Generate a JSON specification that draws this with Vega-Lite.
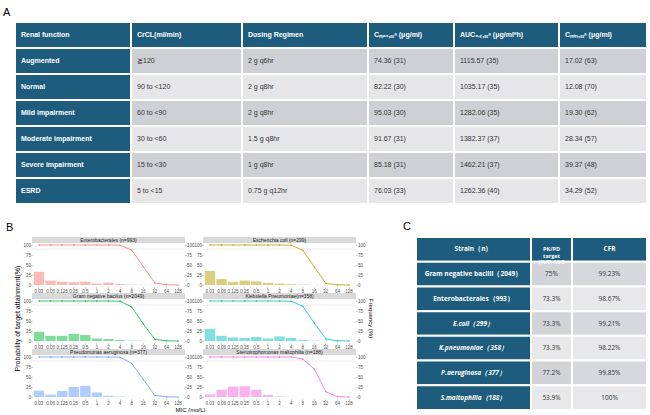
{
 "$schema": "https://vega.github.io/schema/vega-lite/v6.json",
 "background": "white",
 "padding": {"left": 3, "top": 7, "right": 0, "bottom": 0},
 "bounds": "flush",
 "spacing": 215,
 "config": {
  "view": {"stroke": null},
  "axis": {"domain": false, "grid": false, "labelFont": "Liberation Sans", "labelFontSize": 4.5, "labelColor": "#4d4d4d", "tickColor": "#4d4d4d", "tickSize": 1, "tickWidth": 0.5, "labelPadding": 0.5, "titleFont": "Liberation Sans", "titleFontSize": 6, "titleFontWeight": "normal", "titleColor": "#000000", "titlePadding": 2},
  "title": {"font": "Liberation Sans", "fontWeight": "normal", "color": "#000000"},
  "text": {"font": "Liberation Sans"}
 },
 "datasets": {
  "a": [
   {"r": 0, "c": "renal", "t": "Renal function"}, {"r": 0, "c": "crcl", "t": "CrCL(ml/min)"}, {"r": 0, "c": "dose", "t": "Dosing Regimen"}, {"r": 0, "c": "cmax", "t": "Cₘₐₓ,ₛₛᵃ (μg/ml)"}, {"r": 0, "c": "auc", "t": "AUC₀₋ₜ,ₛₛᵃ (μg/ml*h)"}, {"r": 0, "c": "cmin", "t": "Cₘᵢₙ,ₛₛᵃ (μg/ml)"},
   {"r": 1, "c": "renal", "t": "Augmented"}, {"r": 1, "c": "crcl", "t": "≧120"}, {"r": 1, "c": "dose", "t": "2 g q6hr"}, {"r": 1, "c": "cmax", "t": "74.36 (31)"}, {"r": 1, "c": "auc", "t": "1115.57 (35)"}, {"r": 1, "c": "cmin", "t": "17.02 (63)"},
   {"r": 2, "c": "renal", "t": "Normal"}, {"r": 2, "c": "crcl", "t": "90 to <120"}, {"r": 2, "c": "dose", "t": "2 g q8hr"}, {"r": 2, "c": "cmax", "t": "82.22 (30)"}, {"r": 2, "c": "auc", "t": "1035.17 (35)"}, {"r": 2, "c": "cmin", "t": "12.08 (70)"},
   {"r": 3, "c": "renal", "t": "Mild impairment"}, {"r": 3, "c": "crcl", "t": "60 to <90"}, {"r": 3, "c": "dose", "t": "2 g q8hr"}, {"r": 3, "c": "cmax", "t": "95.03 (30)"}, {"r": 3, "c": "auc", "t": "1282.06 (35)"}, {"r": 3, "c": "cmin", "t": "19.30 (62)"},
   {"r": 4, "c": "renal", "t": "Moderate impairment"}, {"r": 4, "c": "crcl", "t": "30 to <60"}, {"r": 4, "c": "dose", "t": "1.5 g q8hr"}, {"r": 4, "c": "cmax", "t": "91.67 (31)"}, {"r": 4, "c": "auc", "t": "1382.37 (37)"}, {"r": 4, "c": "cmin", "t": "28.34 (57)"},
   {"r": 5, "c": "renal", "t": "Severe impairment"}, {"r": 5, "c": "crcl", "t": "15 to <30"}, {"r": 5, "c": "dose", "t": "1 g q8hr"}, {"r": 5, "c": "cmax", "t": "85.18 (31)"}, {"r": 5, "c": "auc", "t": "1462.21 (37)"}, {"r": 5, "c": "cmin", "t": "39.37 (48)"},
   {"r": 6, "c": "renal", "t": "ESRD"}, {"r": 6, "c": "crcl", "t": "5 to <15"}, {"r": 6, "c": "dose", "t": "0.75 g q12hr"}, {"r": 6, "c": "cmax", "t": "76.03 (33)"}, {"r": 6, "c": "auc", "t": "1262.36 (40)"}, {"r": 6, "c": "cmin", "t": "34.29 (52)"}
  ],
  "c": [
   {"r": 0, "c": "strain", "t": "Strain（n）"}, {"r": 0, "c": "pk", "t": "PK/PD\ntarget\n(%fT>MIC"}, {"r": 0, "c": "cfr", "t": "CFR"},
   {"r": 1, "c": "strain", "t": "Gram negative bacilli（2049）"}, {"r": 1, "c": "pk", "t": "75%"}, {"r": 1, "c": "cfr", "t": "99.23%"},
   {"r": 2, "c": "strain", "t": "Enterobacterales（993）"}, {"r": 2, "c": "pk", "t": "73.3%"}, {"r": 2, "c": "cfr", "t": "98.67%"},
   {"r": 3, "c": "strain", "t": "E.coli（299）"}, {"r": 3, "c": "pk", "t": "73.3%"}, {"r": 3, "c": "cfr", "t": "99.21%"},
   {"r": 4, "c": "strain", "t": "K.pneumoniae（358）"}, {"r": 4, "c": "pk", "t": "73.3%"}, {"r": 4, "c": "cfr", "t": "98.22%"},
   {"r": 5, "c": "strain", "t": "P.aeruginosa（377）"}, {"r": 5, "c": "pk", "t": "77.2%"}, {"r": 5, "c": "cfr", "t": "99.85%"},
   {"r": 6, "c": "strain", "t": "S.maltophilia（188）"}, {"r": 6, "c": "pk", "t": "53.9%"}, {"r": 6, "c": "cfr", "t": "100%"}
  ],
  "b": [
   {"s": "Enterobacterales (n=993)", "mic": "0.03", "freq": 33, "pta": 100},
   {"s": "Enterobacterales (n=993)", "mic": "0.06", "freq": 11, "pta": 100},
   {"s": "Enterobacterales (n=993)", "mic": "0.125", "freq": 8, "pta": 100},
   {"s": "Enterobacterales (n=993)", "mic": "0.25", "freq": 7, "pta": 100},
   {"s": "Enterobacterales (n=993)", "mic": "0.5", "freq": 8, "pta": 100},
   {"s": "Enterobacterales (n=993)", "mic": "1", "freq": 4, "pta": 100},
   {"s": "Enterobacterales (n=993)", "mic": "2", "freq": 6, "pta": 100},
   {"s": "Enterobacterales (n=993)", "mic": "4", "freq": 2.5, "pta": 99.5},
   {"s": "Enterobacterales (n=993)", "mic": "8", "freq": 1, "pta": 87},
   {"s": "Enterobacterales (n=993)", "mic": "16", "freq": 0.5, "pta": 46},
   {"s": "Enterobacterales (n=993)", "mic": "32", "freq": 0.3, "pta": 5},
   {"s": "Enterobacterales (n=993)", "mic": "64", "freq": 0, "pta": 0.5},
   {"s": "Enterobacterales (n=993)", "mic": "128", "freq": 0, "pta": 0},
   {"s": "Escherichia coli (n=299)", "mic": "0.03", "freq": 35, "pta": 100},
   {"s": "Escherichia coli (n=299)", "mic": "0.06", "freq": 15, "pta": 100},
   {"s": "Escherichia coli (n=299)", "mic": "0.125", "freq": 8, "pta": 100},
   {"s": "Escherichia coli (n=299)", "mic": "0.25", "freq": 11, "pta": 100},
   {"s": "Escherichia coli (n=299)", "mic": "0.5", "freq": 9, "pta": 100},
   {"s": "Escherichia coli (n=299)", "mic": "1", "freq": 5, "pta": 100},
   {"s": "Escherichia coli (n=299)", "mic": "2", "freq": 3.5, "pta": 100},
   {"s": "Escherichia coli (n=299)", "mic": "4", "freq": 2, "pta": 99.5},
   {"s": "Escherichia coli (n=299)", "mic": "8", "freq": 1, "pta": 87},
   {"s": "Escherichia coli (n=299)", "mic": "16", "freq": 0.3, "pta": 45},
   {"s": "Escherichia coli (n=299)", "mic": "32", "freq": 0, "pta": 4},
   {"s": "Escherichia coli (n=299)", "mic": "64", "freq": 0, "pta": 0.5},
   {"s": "Escherichia coli (n=299)", "mic": "128", "freq": 0, "pta": 0},
   {"s": "Gram negative bacilus (n=2049)", "mic": "0.03", "freq": 23, "pta": 100},
   {"s": "Gram negative bacilus (n=2049)", "mic": "0.06", "freq": 13, "pta": 100},
   {"s": "Gram negative bacilus (n=2049)", "mic": "0.125", "freq": 13, "pta": 100},
   {"s": "Gram negative bacilus (n=2049)", "mic": "0.25", "freq": 18, "pta": 100},
   {"s": "Gram negative bacilus (n=2049)", "mic": "0.5", "freq": 15, "pta": 100},
   {"s": "Gram negative bacilus (n=2049)", "mic": "1", "freq": 6.5, "pta": 100},
   {"s": "Gram negative bacilus (n=2049)", "mic": "2", "freq": 5, "pta": 100},
   {"s": "Gram negative bacilus (n=2049)", "mic": "4", "freq": 2.5, "pta": 99.5},
   {"s": "Gram negative bacilus (n=2049)", "mic": "8", "freq": 1, "pta": 85},
   {"s": "Gram negative bacilus (n=2049)", "mic": "16", "freq": 0.5, "pta": 43},
   {"s": "Gram negative bacilus (n=2049)", "mic": "32", "freq": 0.3, "pta": 4},
   {"s": "Gram negative bacilus (n=2049)", "mic": "64", "freq": 0, "pta": 0.5},
   {"s": "Gram negative bacilus (n=2049)", "mic": "128", "freq": 0, "pta": 0},
   {"s": "Klebsiella Pneumoniae(n=358)", "mic": "0.03", "freq": 30.5, "pta": 100},
   {"s": "Klebsiella Pneumoniae(n=358)", "mic": "0.06", "freq": 13, "pta": 100},
   {"s": "Klebsiella Pneumoniae(n=358)", "mic": "0.125", "freq": 9, "pta": 100},
   {"s": "Klebsiella Pneumoniae(n=358)", "mic": "0.25", "freq": 7.5, "pta": 100},
   {"s": "Klebsiella Pneumoniae(n=358)", "mic": "0.5", "freq": 10, "pta": 100},
   {"s": "Klebsiella Pneumoniae(n=358)", "mic": "1", "freq": 6, "pta": 100},
   {"s": "Klebsiella Pneumoniae(n=358)", "mic": "2", "freq": 11.5, "pta": 100},
   {"s": "Klebsiella Pneumoniae(n=358)", "mic": "4", "freq": 7.5, "pta": 99.5},
   {"s": "Klebsiella Pneumoniae(n=358)", "mic": "8", "freq": 2.5, "pta": 87},
   {"s": "Klebsiella Pneumoniae(n=358)", "mic": "16", "freq": 0.8, "pta": 45},
   {"s": "Klebsiella Pneumoniae(n=358)", "mic": "32", "freq": 0.3, "pta": 5},
   {"s": "Klebsiella Pneumoniae(n=358)", "mic": "64", "freq": 0, "pta": 0.5},
   {"s": "Klebsiella Pneumoniae(n=358)", "mic": "128", "freq": 0, "pta": 0},
   {"s": "Pseudomonas aeruginosa (n=377)", "mic": "0.03", "freq": 16, "pta": 100},
   {"s": "Pseudomonas aeruginosa (n=377)", "mic": "0.06", "freq": 6, "pta": 100},
   {"s": "Pseudomonas aeruginosa (n=377)", "mic": "0.125", "freq": 15, "pta": 100},
   {"s": "Pseudomonas aeruginosa (n=377)", "mic": "0.25", "freq": 25, "pta": 100},
   {"s": "Pseudomonas aeruginosa (n=377)", "mic": "0.5", "freq": 28, "pta": 100},
   {"s": "Pseudomonas aeruginosa (n=377)", "mic": "1", "freq": 11.5, "pta": 100},
   {"s": "Pseudomonas aeruginosa (n=377)", "mic": "2", "freq": 3, "pta": 100},
   {"s": "Pseudomonas aeruginosa (n=377)", "mic": "4", "freq": 1, "pta": 99.5},
   {"s": "Pseudomonas aeruginosa (n=377)", "mic": "8", "freq": 0.3, "pta": 84},
   {"s": "Pseudomonas aeruginosa (n=377)", "mic": "16", "freq": 0, "pta": 44},
   {"s": "Pseudomonas aeruginosa (n=377)", "mic": "32", "freq": 0, "pta": 4},
   {"s": "Pseudomonas aeruginosa (n=377)", "mic": "64", "freq": 0, "pta": 0.5},
   {"s": "Pseudomonas aeruginosa (n=377)", "mic": "128", "freq": 0, "pta": 0},
   {"s": "Stenotrophomonas maltophilia (n=188)", "mic": "0.03", "freq": 6.5, "pta": 100},
   {"s": "Stenotrophomonas maltophilia (n=188)", "mic": "0.06", "freq": 18, "pta": 100},
   {"s": "Stenotrophomonas maltophilia (n=188)", "mic": "0.125", "freq": 26, "pta": 100},
   {"s": "Stenotrophomonas maltophilia (n=188)", "mic": "0.25", "freq": 27, "pta": 100},
   {"s": "Stenotrophomonas maltophilia (n=188)", "mic": "0.5", "freq": 18, "pta": 100},
   {"s": "Stenotrophomonas maltophilia (n=188)", "mic": "1", "freq": 5, "pta": 100},
   {"s": "Stenotrophomonas maltophilia (n=188)", "mic": "2", "freq": 1.5, "pta": 100},
   {"s": "Stenotrophomonas maltophilia (n=188)", "mic": "4", "freq": 0.5, "pta": 100},
   {"s": "Stenotrophomonas maltophilia (n=188)", "mic": "8", "freq": 0, "pta": 95},
   {"s": "Stenotrophomonas maltophilia (n=188)", "mic": "16", "freq": 0, "pta": 70},
   {"s": "Stenotrophomonas maltophilia (n=188)", "mic": "32", "freq": 0, "pta": 13},
   {"s": "Stenotrophomonas maltophilia (n=188)", "mic": "64", "freq": 0, "pta": 1},
   {"s": "Stenotrophomonas maltophilia (n=188)", "mic": "128", "freq": 0, "pta": 0}
  ]
 },
 "vconcat": [
  {
   "title": {"text": "A", "anchor": "start", "fontSize": 11, "dx": -11, "offset": 3},
   "bounds": "flush",
   "spacing": 0,
   "hconcat": [
    {"width": 116, "height": 182, "data": {"name": "a"}, "transform": [{"filter": "datum.c == 'renal'"}],
     "encoding": {"y": {"field": "r", "type": "ordinal", "axis": null, "scale": {"paddingInner": 0, "paddingOuter": 0}}, "x": {"field": "c", "type": "nominal", "bandPosition": 0, "axis": null, "scale": {"paddingInner": 0, "paddingOuter": 0}}},
     "layer": [
      {"mark": {"type": "rect", "stroke": "white", "strokeWidth": 2, "fill": "#1d5c7d"}, "encoding": {"x": {"field": "c", "type": "nominal"}}},
      {"mark": {"type": "text", "align": "left", "dx": 6, "fontSize": 7, "fontWeight": "bold", "color": "white"}, "encoding": {"text": {"field": "t"}}}
     ]},
    {"width": 111, "height": 182, "data": {"name": "a"}, "transform": [{"filter": "datum.c == 'crcl'"}],
     "encoding": {"y": {"field": "r", "type": "ordinal", "axis": null, "scale": {"paddingInner": 0, "paddingOuter": 0}}, "x": {"field": "c", "type": "nominal", "bandPosition": 0, "axis": null, "scale": {"paddingInner": 0, "paddingOuter": 0}}},
     "layer": [
      {"mark": {"type": "rect", "stroke": "white", "strokeWidth": 2}, "encoding": {"x": {"field": "c", "type": "nominal"}, "fill": {"condition": [{"test": "datum.r == 0", "value": "#1d5c7d"}, {"test": "datum.r % 2 == 1", "value": "#cfd0d5"}], "value": "#e6e6e9"}}},
      {"transform": [{"filter": "datum.r == 0"}], "mark": {"type": "text", "align": "left", "dx": 6, "fontSize": 7, "fontWeight": "bold", "color": "white"}, "encoding": {"text": {"field": "t"}}},
      {"transform": [{"filter": "datum.r > 0"}], "mark": {"type": "text", "align": "left", "dx": 6, "fontSize": 7, "color": "#333333"}, "encoding": {"text": {"field": "t"}}}
     ]},
    {"width": 126, "height": 182, "data": {"name": "a"}, "transform": [{"filter": "datum.c == 'dose'"}],
     "encoding": {"y": {"field": "r", "type": "ordinal", "axis": null, "scale": {"paddingInner": 0, "paddingOuter": 0}}, "x": {"field": "c", "type": "nominal", "bandPosition": 0, "axis": null, "scale": {"paddingInner": 0, "paddingOuter": 0}}},
     "layer": [
      {"mark": {"type": "rect", "stroke": "white", "strokeWidth": 2}, "encoding": {"x": {"field": "c", "type": "nominal"}, "fill": {"condition": [{"test": "datum.r == 0", "value": "#1d5c7d"}, {"test": "datum.r % 2 == 1", "value": "#cfd0d5"}], "value": "#e6e6e9"}}},
      {"transform": [{"filter": "datum.r == 0"}], "mark": {"type": "text", "align": "left", "dx": 6, "fontSize": 7, "fontWeight": "bold", "color": "white"}, "encoding": {"text": {"field": "t"}}},
      {"transform": [{"filter": "datum.r > 0"}], "mark": {"type": "text", "align": "left", "dx": 6, "fontSize": 7, "color": "#333333"}, "encoding": {"text": {"field": "t"}}}
     ]},
    {"width": 86, "height": 182, "data": {"name": "a"}, "transform": [{"filter": "datum.c == 'cmax'"}],
     "encoding": {"y": {"field": "r", "type": "ordinal", "axis": null, "scale": {"paddingInner": 0, "paddingOuter": 0}}, "x": {"field": "c", "type": "nominal", "bandPosition": 0, "axis": null, "scale": {"paddingInner": 0, "paddingOuter": 0}}},
     "layer": [
      {"mark": {"type": "rect", "stroke": "white", "strokeWidth": 2}, "encoding": {"x": {"field": "c", "type": "nominal"}, "fill": {"condition": [{"test": "datum.r == 0", "value": "#1d5c7d"}, {"test": "datum.r % 2 == 1", "value": "#cfd0d5"}], "value": "#e6e6e9"}}},
      {"transform": [{"filter": "datum.r == 0"}], "mark": {"type": "text", "align": "left", "dx": 6, "fontSize": 7, "fontWeight": "bold", "color": "white"}, "encoding": {"text": {"field": "t"}}},
      {"transform": [{"filter": "datum.r > 0"}], "mark": {"type": "text", "align": "left", "dx": 6, "fontSize": 7, "color": "#333333"}, "encoding": {"text": {"field": "t"}}}
     ]},
    {"width": 105, "height": 182, "data": {"name": "a"}, "transform": [{"filter": "datum.c == 'auc'"}],
     "encoding": {"y": {"field": "r", "type": "ordinal", "axis": null, "scale": {"paddingInner": 0, "paddingOuter": 0}}, "x": {"field": "c", "type": "nominal", "bandPosition": 0, "axis": null, "scale": {"paddingInner": 0, "paddingOuter": 0}}},
     "layer": [
      {"mark": {"type": "rect", "stroke": "white", "strokeWidth": 2}, "encoding": {"x": {"field": "c", "type": "nominal"}, "fill": {"condition": [{"test": "datum.r == 0", "value": "#1d5c7d"}, {"test": "datum.r % 2 == 1", "value": "#cfd0d5"}], "value": "#e6e6e9"}}},
      {"transform": [{"filter": "datum.r == 0"}], "mark": {"type": "text", "align": "left", "dx": 6, "fontSize": 7, "fontWeight": "bold", "color": "white"}, "encoding": {"text": {"field": "t"}}},
      {"transform": [{"filter": "datum.r > 0"}], "mark": {"type": "text", "align": "left", "dx": 6, "fontSize": 7, "color": "#333333"}, "encoding": {"text": {"field": "t"}}}
     ]},
    {"width": 88, "height": 182, "data": {"name": "a"}, "transform": [{"filter": "datum.c == 'cmin'"}],
     "encoding": {"y": {"field": "r", "type": "ordinal", "axis": null, "scale": {"paddingInner": 0, "paddingOuter": 0}}, "x": {"field": "c", "type": "nominal", "bandPosition": 0, "axis": null, "scale": {"paddingInner": 0, "paddingOuter": 0}}},
     "layer": [
      {"mark": {"type": "rect", "stroke": "white", "strokeWidth": 2}, "encoding": {"x": {"field": "c", "type": "nominal"}, "fill": {"condition": [{"test": "datum.r == 0", "value": "#1d5c7d"}, {"test": "datum.r % 2 == 1", "value": "#cfd0d5"}], "value": "#e6e6e9"}}},
      {"transform": [{"filter": "datum.r == 0"}], "mark": {"type": "text", "align": "left", "dx": 6, "fontSize": 7, "fontWeight": "bold", "color": "white"}, "encoding": {"text": {"field": "t"}}},
      {"transform": [{"filter": "datum.r > 0"}], "mark": {"type": "text", "align": "left", "dx": 6, "fontSize": 7, "color": "#333333"}, "encoding": {"text": {"field": "t"}}}
     ]}
   ]
  },
  {
   "bounds": "flush",
   "spacing": 401,
   "hconcat": [
    {
     "bounds": "flush",
     "spacing": 16,
     "hconcat": [
      {"width": 1, "height": 1, "title": {"text": "B", "anchor": "start", "frame": "group", "fontSize": 11, "dx": -9, "offset": 4}, "data": {"values": []}, "mark": {"type": "point", "opacity": 0}},
      {
       "data": {"name": "b"},
       "columns": 2,
       "bounds": "flush",
       "spacing": {"row": 6, "column": 18},
       "concat": [
        {"width": 153, "height": 50, "transform": [{"filter": {"field": "s", "equal": "Enterobacterales (n=993)"}}], "resolve": {"axis": {"y": "independent"}},
         "layer": [
          {"transform": [{"filter": "datum.mic == '0.03'"}], "mark": {"type": "rect", "fill": "#d9d9d9"}, "encoding": {"y": {"datum": 120, "type": "quantitative", "axis": null}, "y2": {"datum": 105}}},
          {"transform": [{"filter": "datum.mic == '0.03'"}], "mark": {"type": "text", "fontSize": 5, "color": "#1a1a1a", "baseline": "middle"}, "encoding": {"y": {"datum": 112.5, "type": "quantitative", "axis": null}, "text": {"field": "s"}}},
          {"transform": [{"filter": "datum.mic == '0.03'"}], "mark": {"type": "rule", "color": "#e6e6e6", "strokeWidth": 0.8}, "encoding": {"y": {"datum": 90, "type": "quantitative", "axis": null}}},
          {"mark": {"type": "bar", "opacity": 0.5}, "encoding": {
            "x": {"field": "mic", "type": "ordinal", "sort": ["0.03", "0.06", "0.125", "0.25", "0.5", "1", "2", "4", "8", "16", "32", "64", "128"], "scale": {"paddingInner": 0.1, "paddingOuter": 0.15}, "axis": {"title": null, "labelAngle": 0, "labelOverlap": false}},
            "y": {"field": "freq", "type": "quantitative", "scale": {"domain": [-5, 120], "nice": false, "zero": false}, "axis": {"orient": "right", "values": [0, 25, 50, 75, 100], "title": null}},
            "y2": {"datum": 0},
            "color": {"field": "s", "type": "nominal", "legend": null, "scale": {"domain": ["Enterobacterales (n=993)", "Escherichia coli (n=299)", "Gram negative bacilus (n=2049)", "Klebsiella Pneumoniae(n=358)", "Pseudomonas aeruginosa (n=377)", "Stenotrophomonas maltophilia (n=188)"], "range": ["#F8766D", "#B79F00", "#00BA38", "#00BFC4", "#619CFF", "#F564E3"]}}}},
          {"mark": {"type": "line", "strokeWidth": 0.8}, "encoding": {
            "x": {"field": "mic", "type": "ordinal", "sort": ["0.03", "0.06", "0.125", "0.25", "0.5", "1", "2", "4", "8", "16", "32", "64", "128"], "axis": {"title": null, "labelAngle": 0, "labelOverlap": false}},
            "y": {"field": "pta", "type": "quantitative", "axis": {"orient": "left", "values": [0, 25, 50, 75, 100], "title": null}},
            "color": {"field": "s", "type": "nominal", "legend": null}}},
          {"mark": {"type": "point", "filled": true, "size": 2, "opacity": 1}, "encoding": {
            "x": {"field": "mic", "type": "ordinal", "sort": ["0.03", "0.06", "0.125", "0.25", "0.5", "1", "2", "4", "8", "16", "32", "64", "128"], "axis": {"title": null, "labelAngle": 0, "labelOverlap": false}},
            "y": {"field": "pta", "type": "quantitative", "axis": null},
            "color": {"field": "s", "type": "nominal", "legend": null}}}
         ]},
        {"width": 153, "height": 50, "transform": [{"filter": {"field": "s", "equal": "Escherichia coli (n=299)"}}], "resolve": {"axis": {"y": "independent"}},
         "layer": [
          {"transform": [{"filter": "datum.mic == '0.03'"}], "mark": {"type": "rect", "fill": "#d9d9d9"}, "encoding": {"y": {"datum": 120, "type": "quantitative", "axis": null}, "y2": {"datum": 105}}},
          {"transform": [{"filter": "datum.mic == '0.03'"}], "mark": {"type": "text", "fontSize": 5, "color": "#1a1a1a", "baseline": "middle"}, "encoding": {"y": {"datum": 112.5, "type": "quantitative", "axis": null}, "text": {"field": "s"}}},
          {"transform": [{"filter": "datum.mic == '0.03'"}], "mark": {"type": "rule", "color": "#e6e6e6", "strokeWidth": 0.8}, "encoding": {"y": {"datum": 90, "type": "quantitative", "axis": null}}},
          {"mark": {"type": "bar", "opacity": 0.5}, "encoding": {
            "x": {"field": "mic", "type": "ordinal", "sort": ["0.03", "0.06", "0.125", "0.25", "0.5", "1", "2", "4", "8", "16", "32", "64", "128"], "scale": {"paddingInner": 0.1, "paddingOuter": 0.15}, "axis": {"title": null, "labelAngle": 0, "labelOverlap": false}},
            "y": {"field": "freq", "type": "quantitative", "scale": {"domain": [-5, 120], "nice": false, "zero": false}, "axis": {"orient": "right", "values": [0, 25, 50, 75, 100], "title": null}},
            "y2": {"datum": 0},
            "color": {"field": "s", "type": "nominal", "legend": null, "scale": {"domain": ["Enterobacterales (n=993)", "Escherichia coli (n=299)", "Gram negative bacilus (n=2049)", "Klebsiella Pneumoniae(n=358)", "Pseudomonas aeruginosa (n=377)", "Stenotrophomonas maltophilia (n=188)"], "range": ["#F8766D", "#B79F00", "#00BA38", "#00BFC4", "#619CFF", "#F564E3"]}}}},
          {"mark": {"type": "line", "strokeWidth": 0.8}, "encoding": {
            "x": {"field": "mic", "type": "ordinal", "sort": ["0.03", "0.06", "0.125", "0.25", "0.5", "1", "2", "4", "8", "16", "32", "64", "128"], "axis": {"title": null, "labelAngle": 0, "labelOverlap": false}},
            "y": {"field": "pta", "type": "quantitative", "axis": {"orient": "left", "values": [0, 25, 50, 75, 100], "title": null}},
            "color": {"field": "s", "type": "nominal", "legend": null}}},
          {"mark": {"type": "point", "filled": true, "size": 2, "opacity": 1}, "encoding": {
            "x": {"field": "mic", "type": "ordinal", "sort": ["0.03", "0.06", "0.125", "0.25", "0.5", "1", "2", "4", "8", "16", "32", "64", "128"], "axis": {"title": null, "labelAngle": 0, "labelOverlap": false}},
            "y": {"field": "pta", "type": "quantitative", "axis": null},
            "color": {"field": "s", "type": "nominal", "legend": null}}}
         ]},
        {"width": 153, "height": 50, "transform": [{"filter": {"field": "s", "equal": "Gram negative bacilus (n=2049)"}}], "resolve": {"axis": {"y": "independent"}},
         "layer": [
          {"transform": [{"filter": "datum.mic == '0.03'"}], "mark": {"type": "rect", "fill": "#d9d9d9"}, "encoding": {"y": {"datum": 120, "type": "quantitative", "axis": null}, "y2": {"datum": 105}}},
          {"transform": [{"filter": "datum.mic == '0.03'"}], "mark": {"type": "text", "fontSize": 5, "color": "#1a1a1a", "baseline": "middle"}, "encoding": {"y": {"datum": 112.5, "type": "quantitative", "axis": null}, "text": {"field": "s"}}},
          {"transform": [{"filter": "datum.mic == '0.03'"}], "mark": {"type": "rule", "color": "#e6e6e6", "strokeWidth": 0.8}, "encoding": {"y": {"datum": 90, "type": "quantitative", "axis": null}}},
          {"mark": {"type": "bar", "opacity": 0.5}, "encoding": {
            "x": {"field": "mic", "type": "ordinal", "sort": ["0.03", "0.06", "0.125", "0.25", "0.5", "1", "2", "4", "8", "16", "32", "64", "128"], "scale": {"paddingInner": 0.1, "paddingOuter": 0.15}, "axis": {"title": null, "labelAngle": 0, "labelOverlap": false}},
            "y": {"field": "freq", "type": "quantitative", "scale": {"domain": [-5, 120], "nice": false, "zero": false}, "axis": {"orient": "right", "values": [0, 25, 50, 75, 100], "title": null}},
            "y2": {"datum": 0},
            "color": {"field": "s", "type": "nominal", "legend": null, "scale": {"domain": ["Enterobacterales (n=993)", "Escherichia coli (n=299)", "Gram negative bacilus (n=2049)", "Klebsiella Pneumoniae(n=358)", "Pseudomonas aeruginosa (n=377)", "Stenotrophomonas maltophilia (n=188)"], "range": ["#F8766D", "#B79F00", "#00BA38", "#00BFC4", "#619CFF", "#F564E3"]}}}},
          {"mark": {"type": "line", "strokeWidth": 0.8}, "encoding": {
            "x": {"field": "mic", "type": "ordinal", "sort": ["0.03", "0.06", "0.125", "0.25", "0.5", "1", "2", "4", "8", "16", "32", "64", "128"], "axis": {"title": null, "labelAngle": 0, "labelOverlap": false}},
            "y": {"field": "pta", "type": "quantitative", "axis": {"orient": "left", "values": [0, 25, 50, 75, 100], "title": "Probability of target attainment(%)", "titleFontSize": 7}},
            "color": {"field": "s", "type": "nominal", "legend": null}}},
          {"mark": {"type": "point", "filled": true, "size": 2, "opacity": 1}, "encoding": {
            "x": {"field": "mic", "type": "ordinal", "sort": ["0.03", "0.06", "0.125", "0.25", "0.5", "1", "2", "4", "8", "16", "32", "64", "128"], "axis": {"title": null, "labelAngle": 0, "labelOverlap": false}},
            "y": {"field": "pta", "type": "quantitative", "axis": null},
            "color": {"field": "s", "type": "nominal", "legend": null}}}
         ]},
        {"width": 153, "height": 50, "transform": [{"filter": {"field": "s", "equal": "Klebsiella Pneumoniae(n=358)"}}], "resolve": {"axis": {"y": "independent"}},
         "layer": [
          {"transform": [{"filter": "datum.mic == '0.03'"}], "mark": {"type": "rect", "fill": "#d9d9d9"}, "encoding": {"y": {"datum": 120, "type": "quantitative", "axis": null}, "y2": {"datum": 105}}},
          {"transform": [{"filter": "datum.mic == '0.03'"}], "mark": {"type": "text", "fontSize": 5, "color": "#1a1a1a", "baseline": "middle"}, "encoding": {"y": {"datum": 112.5, "type": "quantitative", "axis": null}, "text": {"field": "s"}}},
          {"transform": [{"filter": "datum.mic == '0.03'"}], "mark": {"type": "rule", "color": "#e6e6e6", "strokeWidth": 0.8}, "encoding": {"y": {"datum": 90, "type": "quantitative", "axis": null}}},
          {"mark": {"type": "bar", "opacity": 0.5}, "encoding": {
            "x": {"field": "mic", "type": "ordinal", "sort": ["0.03", "0.06", "0.125", "0.25", "0.5", "1", "2", "4", "8", "16", "32", "64", "128"], "scale": {"paddingInner": 0.1, "paddingOuter": 0.15}, "axis": {"title": null, "labelAngle": 0, "labelOverlap": false}},
            "y": {"field": "freq", "type": "quantitative", "scale": {"domain": [-5, 120], "nice": false, "zero": false}, "axis": {"orient": "right", "values": [0, 25, 50, 75, 100], "title": "Frequency (%)"}},
            "y2": {"datum": 0},
            "color": {"field": "s", "type": "nominal", "legend": null, "scale": {"domain": ["Enterobacterales (n=993)", "Escherichia coli (n=299)", "Gram negative bacilus (n=2049)", "Klebsiella Pneumoniae(n=358)", "Pseudomonas aeruginosa (n=377)", "Stenotrophomonas maltophilia (n=188)"], "range": ["#F8766D", "#B79F00", "#00BA38", "#00BFC4", "#619CFF", "#F564E3"]}}}},
          {"mark": {"type": "line", "strokeWidth": 0.8}, "encoding": {
            "x": {"field": "mic", "type": "ordinal", "sort": ["0.03", "0.06", "0.125", "0.25", "0.5", "1", "2", "4", "8", "16", "32", "64", "128"], "axis": {"title": null, "labelAngle": 0, "labelOverlap": false}},
            "y": {"field": "pta", "type": "quantitative", "axis": {"orient": "left", "values": [0, 25, 50, 75, 100], "title": null}},
            "color": {"field": "s", "type": "nominal", "legend": null}}},
          {"mark": {"type": "point", "filled": true, "size": 2, "opacity": 1}, "encoding": {
            "x": {"field": "mic", "type": "ordinal", "sort": ["0.03", "0.06", "0.125", "0.25", "0.5", "1", "2", "4", "8", "16", "32", "64", "128"], "axis": {"title": null, "labelAngle": 0, "labelOverlap": false}},
            "y": {"field": "pta", "type": "quantitative", "axis": null},
            "color": {"field": "s", "type": "nominal", "legend": null}}}
         ]},
        {"width": 153, "height": 50, "transform": [{"filter": {"field": "s", "equal": "Pseudomonas aeruginosa (n=377)"}}], "resolve": {"axis": {"y": "independent"}},
         "layer": [
          {"transform": [{"filter": "datum.mic == '0.03'"}], "mark": {"type": "rect", "fill": "#d9d9d9"}, "encoding": {"y": {"datum": 120, "type": "quantitative", "axis": null}, "y2": {"datum": 105}}},
          {"transform": [{"filter": "datum.mic == '0.03'"}], "mark": {"type": "text", "fontSize": 5, "color": "#1a1a1a", "baseline": "middle"}, "encoding": {"y": {"datum": 112.5, "type": "quantitative", "axis": null}, "text": {"field": "s"}}},
          {"transform": [{"filter": "datum.mic == '0.03'"}], "mark": {"type": "rule", "color": "#e6e6e6", "strokeWidth": 0.8}, "encoding": {"y": {"datum": 90, "type": "quantitative", "axis": null}}},
          {"mark": {"type": "bar", "opacity": 0.5}, "encoding": {
            "x": {"field": "mic", "type": "ordinal", "sort": ["0.03", "0.06", "0.125", "0.25", "0.5", "1", "2", "4", "8", "16", "32", "64", "128"], "scale": {"paddingInner": 0.1, "paddingOuter": 0.15}, "axis": {"title": "MIC (mg/L)", "titleX": 158, "titleAlign": "center", "titlePadding": 1, "labelAngle": 0, "labelOverlap": false}},
            "y": {"field": "freq", "type": "quantitative", "scale": {"domain": [-5, 120], "nice": false, "zero": false}, "axis": {"orient": "right", "values": [0, 25, 50, 75, 100], "title": null}},
            "y2": {"datum": 0},
            "color": {"field": "s", "type": "nominal", "legend": null, "scale": {"domain": ["Enterobacterales (n=993)", "Escherichia coli (n=299)", "Gram negative bacilus (n=2049)", "Klebsiella Pneumoniae(n=358)", "Pseudomonas aeruginosa (n=377)", "Stenotrophomonas maltophilia (n=188)"], "range": ["#F8766D", "#B79F00", "#00BA38", "#00BFC4", "#619CFF", "#F564E3"]}}}},
          {"mark": {"type": "line", "strokeWidth": 0.8}, "encoding": {
            "x": {"field": "mic", "type": "ordinal", "sort": ["0.03", "0.06", "0.125", "0.25", "0.5", "1", "2", "4", "8", "16", "32", "64", "128"], "axis": {"title": "MIC (mg/L)", "titleX": 158, "titleAlign": "center", "titlePadding": 1, "labelAngle": 0, "labelOverlap": false}},
            "y": {"field": "pta", "type": "quantitative", "axis": {"orient": "left", "values": [0, 25, 50, 75, 100], "title": null}},
            "color": {"field": "s", "type": "nominal", "legend": null}}},
          {"mark": {"type": "point", "filled": true, "size": 2, "opacity": 1}, "encoding": {
            "x": {"field": "mic", "type": "ordinal", "sort": ["0.03", "0.06", "0.125", "0.25", "0.5", "1", "2", "4", "8", "16", "32", "64", "128"], "axis": {"title": "MIC (mg/L)", "titleX": 158, "titleAlign": "center", "titlePadding": 1, "labelAngle": 0, "labelOverlap": false}},
            "y": {"field": "pta", "type": "quantitative", "axis": null},
            "color": {"field": "s", "type": "nominal", "legend": null}}}
         ]},
        {"width": 153, "height": 50, "transform": [{"filter": {"field": "s", "equal": "Stenotrophomonas maltophilia (n=188)"}}], "resolve": {"axis": {"y": "independent"}},
         "layer": [
          {"transform": [{"filter": "datum.mic == '0.03'"}], "mark": {"type": "rect", "fill": "#d9d9d9"}, "encoding": {"y": {"datum": 120, "type": "quantitative", "axis": null}, "y2": {"datum": 105}}},
          {"transform": [{"filter": "datum.mic == '0.03'"}], "mark": {"type": "text", "fontSize": 5, "color": "#1a1a1a", "baseline": "middle"}, "encoding": {"y": {"datum": 112.5, "type": "quantitative", "axis": null}, "text": {"field": "s"}}},
          {"transform": [{"filter": "datum.mic == '0.03'"}], "mark": {"type": "rule", "color": "#e6e6e6", "strokeWidth": 0.8}, "encoding": {"y": {"datum": 90, "type": "quantitative", "axis": null}}},
          {"mark": {"type": "bar", "opacity": 0.5}, "encoding": {
            "x": {"field": "mic", "type": "ordinal", "sort": ["0.03", "0.06", "0.125", "0.25", "0.5", "1", "2", "4", "8", "16", "32", "64", "128"], "scale": {"paddingInner": 0.1, "paddingOuter": 0.15}, "axis": {"title": null, "labelAngle": 0, "labelOverlap": false}},
            "y": {"field": "freq", "type": "quantitative", "scale": {"domain": [-5, 120], "nice": false, "zero": false}, "axis": {"orient": "right", "values": [0, 25, 50, 75, 100], "title": null}},
            "y2": {"datum": 0},
            "color": {"field": "s", "type": "nominal", "legend": null, "scale": {"domain": ["Enterobacterales (n=993)", "Escherichia coli (n=299)", "Gram negative bacilus (n=2049)", "Klebsiella Pneumoniae(n=358)", "Pseudomonas aeruginosa (n=377)", "Stenotrophomonas maltophilia (n=188)"], "range": ["#F8766D", "#B79F00", "#00BA38", "#00BFC4", "#619CFF", "#F564E3"]}}}},
          {"mark": {"type": "line", "strokeWidth": 0.8}, "encoding": {
            "x": {"field": "mic", "type": "ordinal", "sort": ["0.03", "0.06", "0.125", "0.25", "0.5", "1", "2", "4", "8", "16", "32", "64", "128"], "axis": {"title": null, "labelAngle": 0, "labelOverlap": false}},
            "y": {"field": "pta", "type": "quantitative", "axis": {"orient": "left", "values": [0, 25, 50, 75, 100], "title": null}},
            "color": {"field": "s", "type": "nominal", "legend": null}}},
          {"mark": {"type": "point", "filled": true, "size": 2, "opacity": 1}, "encoding": {
            "x": {"field": "mic", "type": "ordinal", "sort": ["0.03", "0.06", "0.125", "0.25", "0.5", "1", "2", "4", "8", "16", "32", "64", "128"], "axis": {"title": null, "labelAngle": 0, "labelOverlap": false}},
            "y": {"field": "pta", "type": "quantitative", "axis": null},
            "color": {"field": "s", "type": "nominal", "legend": null}}}
         ]}
       ]
      }
     ]
    },
    {
     "title": {"text": "C", "anchor": "start", "fontSize": 11, "dx": -12, "offset": 4},
     "bounds": "flush",
     "spacing": 0,
     "hconcat": [
      {"width": 115, "height": 173, "data": {"name": "c"}, "transform": [{"filter": "datum.c == 'strain'"}],
       "encoding": {"y": {"field": "r", "type": "ordinal", "axis": null, "scale": {"paddingInner": 0, "paddingOuter": 0}}},
       "layer": [
        {"mark": {"type": "rect", "stroke": "white", "strokeWidth": 2, "fill": "#1d5c7d"}},
        {"transform": [{"filter": "datum.r < 3"}], "mark": {"type": "text", "fontSize": 6.5, "fontWeight": "bold", "color": "white", "font": "Open Sans"}, "encoding": {"text": {"field": "t"}}},
        {"transform": [{"filter": "datum.r >= 3"}], "mark": {"type": "text", "fontSize": 6.5, "fontWeight": "bold", "fontStyle": "italic", "color": "white", "font": "Open Sans"}, "encoding": {"text": {"field": "t"}}}
       ]},
      {"width": 41, "height": 173, "data": {"name": "c"}, "transform": [{"filter": "datum.c == 'pk'"}],
       "encoding": {"y": {"field": "r", "type": "ordinal", "axis": null, "scale": {"paddingInner": 0, "paddingOuter": 0}}},
       "layer": [
        {"mark": {"type": "rect", "stroke": "white", "strokeWidth": 2}, "encoding": {"fill": {"condition": [{"test": "datum.r == 0", "value": "#1d5c7d"}, {"test": "datum.r % 2 == 1", "value": "#d2d3d7"}], "value": "#e8e8eb"}}},
        {"transform": [{"filter": "datum.r == 0"}], "mark": {"type": "text", "fontSize": 5.5, "fontWeight": "bold", "color": "white", "font": "Open Sans", "lineBreak": "\n", "lineHeight": 6.5}, "encoding": {"text": {"field": "t"}}},
        {"transform": [{"filter": "datum.r > 0"}], "mark": {"type": "text", "fontSize": 6.5, "color": "#333333", "font": "Open Sans"}, "encoding": {"text": {"field": "t"}}}
       ]},
      {"width": 75, "height": 173, "data": {"name": "c"}, "transform": [{"filter": "datum.c == 'cfr'"}],
       "encoding": {"y": {"field": "r", "type": "ordinal", "axis": null, "scale": {"paddingInner": 0, "paddingOuter": 0}}},
       "layer": [
        {"mark": {"type": "rect", "stroke": "white", "strokeWidth": 2}, "encoding": {"fill": {"condition": [{"test": "datum.r == 0", "value": "#1d5c7d"}, {"test": "datum.r % 2 == 1", "value": "#d7d8dc"}], "value": "#e8e8eb"}}},
        {"transform": [{"filter": "datum.r == 0"}], "mark": {"type": "text", "fontSize": 6.5, "fontWeight": "bold", "color": "white", "font": "Open Sans"}, "encoding": {"text": {"field": "t"}}},
        {"transform": [{"filter": "datum.r > 0"}], "mark": {"type": "text", "fontSize": 6.5, "color": "#333333", "font": "Open Sans"}, "encoding": {"text": {"field": "t"}}}
       ]}
     ]
    }
   ]
  }
 ]
}
